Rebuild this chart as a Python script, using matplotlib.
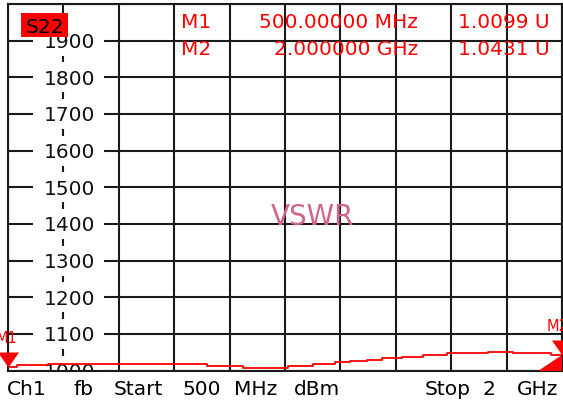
import numpy as np
import matplotlib
matplotlib.use('Agg')
import matplotlib.pyplot as plt
from matplotlib.patches import Rectangle, Polygon
from matplotlib.transforms import ScaledTranslation

# ---------------- data ----------------
freq_mhz = [500, 524, 608, 649, 1039, 1136, 1258, 1326, 1385, 1426, 1472,
            1513, 1567, 1624, 1689, 1800, 1867, 1971, 2000]
vswr = [1.0099, 1.0144, 1.0170, 1.0180, 1.0128, 1.0082, 1.0128, 1.0170,
        1.0240, 1.0260, 1.0300, 1.0340, 1.0380, 1.0430, 1.0470, 1.0520,
        1.0470, 1.0431, 1.0431]
x_start, x_stop = 500, 2000
y_ticks = [1.0, 1.1, 1.2, 1.3, 1.4, 1.5, 1.6, 1.7, 1.8, 1.9]
y_tick_labels = ['1000', '1100', '1200', '1300', '1400', '1500', '1600',
                 '1700', '1800', '1900']
marker_names = ['M1', 'M2']
marker_freqs = [500, 2000]
marker_vals = [1.0099, 1.0431]
marker_freq_text = ['500.00000 MHz', '2.000000 GHz']
marker_val_text = ['1.0099 U', '1.0431 U']
footer_words = ['Ch1', 'fb', 'Start', '500', 'MHz', 'dBm', 'Stop', '2', 'GHz']
footer_centers = [27, 84, 138.5, 201.5, 256, 317, 448, 489, 537.5]

# ---------------- layout ----------------
W, H = 563, 401
FONT = 'DejaVu Sans'
FS = 14.5
RED = '#ff0000'
GRID = '#1a1a1a'

fig = plt.figure(figsize=(W / 100, H / 100), dpi=100)
fig.patch.set_facecolor('white')
L, T, R, B = 8, 4, 562, 370.7
ax = fig.add_axes([L / W, 1 - B / H, (R - L) / W, (B - T) / H])
ax.set_xlim(x_start, x_stop)
ax.set_ylim(1.0, 2.0)
ax.set_xticks(np.linspace(x_start, x_stop, 11))
ax.set_yticks(np.linspace(1.0, 2.0, 11))
ax.tick_params(length=0, labelbottom=False, labelleft=False)
ax.grid(True, color=GRID, lw=1.5, zorder=0.5)
ax.set_axisbelow(True)
for s in ax.spines.values():
    s.set_color(GRID)
    s.set_linewidth(1.5)
    s.set_zorder(2.5)


def fx(px):
    return px / W


def fy(py):
    return 1 - py / H


# y-labels drawn inside the grid with white backing boxes
ytrans = ax.get_yaxis_transform()
box_l, box_r, lab_c = (33 - L) / (R - L), (104 - L) / (R - L), (70 - L) / (R - L)
box_h = 30 / (B - T)
cap_px = FS * 100 / 72 * 0.729
lab_trans = ytrans + ScaledTranslation(0, -cap_px / 2 / 100, fig.dpi_scale_trans)
for v, t in zip(y_ticks, y_tick_labels):
    ax.add_patch(Rectangle((box_l, v - box_h / 2), box_r - box_l, box_h,
                           transform=ytrans, facecolor='white',
                           edgecolor='none', zorder=1, clip_on=True))
    ax.text(lab_c, v, t, transform=lab_trans, ha='center', va='baseline',
            fontsize=FS, family=FONT, color='#111111', zorder=2, clip_on=True)

# trace
ax.step(freq_mhz, vswr, where='post', color=RED, lw=1.3, zorder=4)

# marker triangles (tip at the data point)
tri = [(0, 0), (-0.7, 1), (0.7, 1), (0, 0)]
ax.plot(marker_freqs, marker_vals, linestyle='none', marker=tri,
        markersize=21.6, color=RED, markeredgewidth=0, zorder=5, clip_on=False)

# marker labels
fig.text(fx(17), fy(343), marker_names[0], ha='right', va='baseline',
         fontsize=10.5, family=FONT, color=RED)
fig.text(fx(547), fy(331), marker_names[1], ha='left', va='baseline',
         fontsize=10.5, family=FONT, color=RED)

# lower-right red wedge
ax.add_patch(Polygon([((538 - L) / (R - L), 0), (1, 0), (1, 0.042)],
                     closed=True, transform=ax.transAxes, facecolor=RED,
                     edgecolor='none', zorder=5, clip_on=False))

# S22 tag
fig.patches.append(Rectangle((fx(21), fy(37)), fx(68) - fx(21), fy(13) - fy(37),
                             transform=fig.transFigure, facecolor=RED,
                             edgecolor='none', zorder=3))
fig.text(fx(45), fy(33), 'S22', ha='center', va='baseline', fontsize=FS,
         family=FONT, color='black', zorder=4)

# marker readout rows
row_base = [28, 55]
for i in range(2):
    fig.text(fx(196), fy(row_base[i]), marker_names[i], ha='center',
             va='baseline', fontsize=FS, family=FONT, color=RED)
    fig.text(fx(418), fy(row_base[i]), marker_freq_text[i], ha='right',
             va='baseline', fontsize=FS, family=FONT, color=RED)
    fig.text(fx(550), fy(row_base[i]), marker_val_text[i], ha='right',
             va='baseline', fontsize=FS, family=FONT, color=RED)

# format label
fig.text(fx(312), fy(225), 'VSWR', ha='center', va='baseline', fontsize=20,
         family=FONT, color='#d2648c')

# footer
for w, c in zip(footer_words, footer_centers):
    fig.text(fx(c), fy(395), w, ha='center', va='baseline', fontsize=FS,
             family=FONT, color='black')

fig.savefig('out.png', dpi=100, facecolor='white')
